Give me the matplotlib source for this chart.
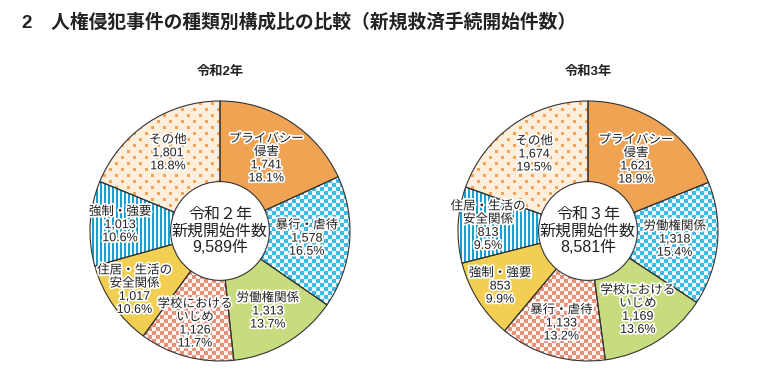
import numpy as np
import matplotlib.pyplot as plt
import matplotlib.patheffects as pe

plt.rcParams['font.family'] = ['Liberation Sans', 'Noto Sans CJK JP', 'DejaVu Sans']

# ==========================
# Datos
# ==========================
titulo = "2　人権侵犯事件の種類別構成比の比較（新規救済手続開始件数）"

anio_r2 = "令和2年"
centro_r2 = "令和２年\n新規開始件数\n9,589件"
cat_r2 = ["プライバシー\n侵害", "暴行・虐待", "労働権関係", "学校における\nいじめ",
          "住居・生活の\n安全関係", "強制・強要", "その他"]
val_r2 = [1741, 1578, 1313, 1126, 1017, 1013, 1801]
pct_r2 = [18.1, 16.5, 13.7, 11.7, 10.6, 10.6, 18.8]

anio_r3 = "令和3年"
centro_r3 = "令和３年\n新規開始件数\n8,581件"
cat_r3 = ["プライバシー\n侵害", "労働権関係", "学校における\nいじめ", "暴行・虐待",
          "強制・強要", "住居・生活の\n安全関係", "その他"]
val_r3 = [1621, 1318, 1169, 1133, 853, 813, 1674]
pct_r3 = [18.9, 15.4, 13.6, 13.2, 9.9, 9.5, 19.5]

# ==========================
# Estilo por posición
# ==========================
W, H = 773, 390
R = 130          # radio en px
N = 280          # tamaño del eje en px
hueco = 0.38
dist_etiq = [0.66, 0.67, 0.72, 0.74, 0.80, 0.77, 0.72]


def rgb(h):
    h = h.lstrip('#')
    return np.array([int(h[i:i + 2], 16) for i in (0, 2, 4)]) / 255


yy, xx = np.indices((N, N))


def liso(c):
    return np.broadcast_to(rgb(c), (N, N, 3)).copy()


def cuadros(c, fondo, s=4):
    m = ((xx // s + yy // s) % 2) == 0
    return np.where(m[..., None], rgb(c), rgb(fondo))


def rayas(c, fondo, p=4, a=2):
    m = (xx % p) < a
    return np.where(m[..., None], rgb(c), rgb(fondo))


def puntos(c, fondo, p=12):
    # puntos al tresbolillo
    dx1 = (xx % p) - p // 2
    dy1 = (yy % p) - p // 2
    dx2 = ((xx + p // 2) % p) - p // 2
    dy2 = ((yy + p // 2) % p) - p // 2
    d = np.minimum(dx1**2 + dy1**2, dx2**2 + dy2**2)
    m = d <= 2
    return np.where(m[..., None], rgb(c), rgb(fondo))


patrones = [
    liso('#F0A352'),
    cuadros('#3DBBE4', '#F4FBFE'),
    liso('#C6DC7E'),
    cuadros('#E9907A', '#FFF6F2'),
    liso('#F2CE52'),
    rayas('#1B9FCF', '#F4FBFE'),
    puntos('#F5A456', '#FEEEDC'),
]


def dona(cx, cy, valores, cats, pcts, centro, anio):
    L = N / 2 / R
    ax = fig.add_axes([(cx - N / 2) / W, (H - cy - N / 2) / H, N / W, N / H])
    wedges, _ = ax.pie(valores, startangle=90, counterclock=False, radius=1,
                       colors=['none'] * len(valores),
                       wedgeprops=dict(width=1 - hueco, edgecolor='#333333',
                                       linewidth=0.8))
    ax.set_xlim(-L, L)
    ax.set_ylim(-L, L)
    for i, w in enumerate(wedges):
        im = ax.imshow(patrones[i], extent=(-L, L, -L, L), interpolation='nearest',
                       zorder=0)
        im.set_clip_path(w)
        w.set_zorder(2)
        ang = np.deg2rad((w.theta1 + w.theta2) / 2)
        r = dist_etiq[i]
        ax.text(r * np.cos(ang), r * np.sin(ang),
                f"{cats[i]}\n{valores[i]:,}\n{pcts[i]}%",
                ha='center', va='center', fontsize=9, color='#222222',
                linespacing=1.12, zorder=5,
                path_effects=[pe.withStroke(linewidth=2.5, foreground='white')])
    ax.text(0, 0, centro, ha='center', va='center', fontsize=11.5,
            color='#222222', linespacing=1.12, zorder=5)
    fig.text(cx / W, 1 - 72 / H, anio, ha='center', va='center',
             fontsize=9.5, fontweight='bold', color='#222222')


fig = plt.figure(figsize=(W / 100, H / 100), dpi=100)
fig.text(22 / W, 1 - 22 / H, titulo, ha='left', va='center', fontsize=13.5,
         fontweight='bold', color='#222222')

dona(220, 231, val_r2, cat_r2, pct_r2, centro_r2, anio_r2)
dona(588, 231, val_r3, cat_r3, pct_r3, centro_r3, anio_r3)

plt.savefig("out.png", dpi=100)
plt.close()
